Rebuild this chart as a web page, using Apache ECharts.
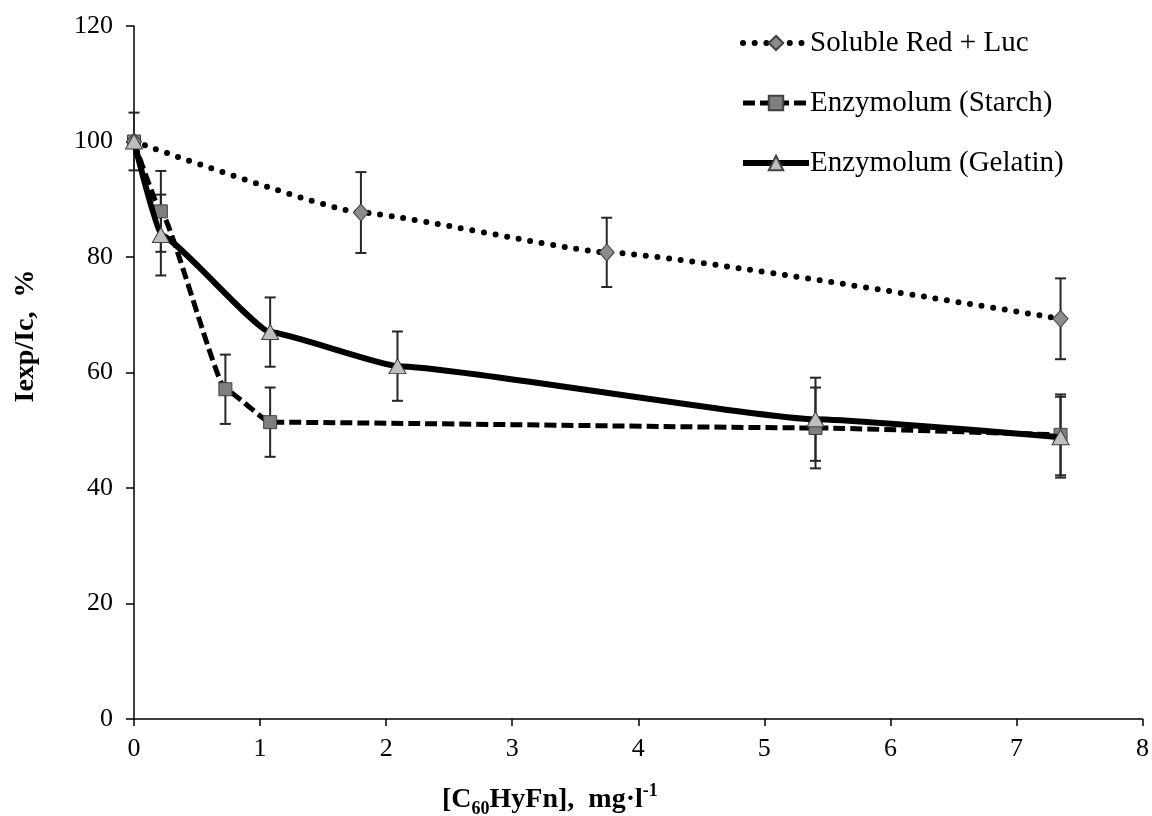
<!DOCTYPE html>
<html>
<head>
<meta charset="utf-8">
<script src="https://cdn.jsdelivr.net/npm/echarts@6/dist/echarts.min.js"></script>
<style>
html,body{margin:0;padding:0;background:#fff;}
#chart{width:1152px;height:816px;}
</style>
</head>
<body>
<div id="chart"></div>
<script>
// ---- data ----
var seriesNames = ['Soluble Red + Luc', 'Enzymolum (Starch)', 'Enzymolum (Gelatin)'];
var xTicks = [0, 1, 2, 3, 4, 5, 6, 7, 8];
var yTicks = [0, 20, 40, 60, 80, 100, 120];

var solubleX = [0, 1.80, 3.75, 7.35];
var solubleY = [100, 87.7, 80.8, 69.3];
var solubleErr = [0, 7.0, 6.0, 7.0];

var starchX = [0, 0.213, 0.725, 1.08, 5.406, 7.35];
var starchY = [100, 87.9, 57.1, 51.4, 50.4, 49.2];
var starchErr = [0, 7.0, 6.0, 6.0, 7.0, 7.0];

var gelatinX = [0, 0.213, 1.08, 2.09, 5.406, 7.35];
var gelatinY = [100, 83.8, 67.0, 61.1, 51.9, 48.8];
var gelatinErr = [5.0, 7.0, 6.0, 6.0, 7.2, 7.0];

function pts(xs, ys){ return xs.map(function(x,i){ return [x, ys[i]]; }); }
function errs(xs, ys, es){
  var out = [];
  xs.forEach(function(x,i){ if (es[i] > 0) out.push([x, ys[i]-es[i], ys[i]+es[i]]); });
  return out;
}

var FONT = '"Liberation Serif","Times New Roman",serif';

var dotStyle = {color: '#000', width: 6, type: [0, 11.7], cap: 'round'};
var dashStyle = {color: '#000', width: 5, type: [12, 5]};
var solidStyle = {color: '#000', width: 6, type: 'solid'};

function errSeries(data){
  return {
    type: 'custom',
    z: 2,
    silent: true,
    data: data,
    renderItem: function(params, api){
      var x = api.value(0);
      var lo = api.coord([x, api.value(1)]);
      var hi = api.coord([x, api.value(2)]);
      var hw = 5.5;
      var st = {stroke: '#262626', lineWidth: 2};
      return {
        type: 'group',
        children: [
          {type:'line', shape:{x1:lo[0], y1:lo[1], x2:hi[0], y2:hi[1]}, style: st},
          {type:'line', shape:{x1:lo[0]-hw, y1:lo[1], x2:lo[0]+hw, y2:lo[1]}, style: st},
          {type:'line', shape:{x1:hi[0]-hw, y1:hi[1], x2:hi[0]+hw, y2:hi[1]}, style: st}
        ]
      };
    }
  };
}

var chart = echarts.init(document.getElementById('chart'), null, {renderer: 'canvas'});
var option = {
  animation: false,
  backgroundColor: '#ffffff',
  textStyle: {fontFamily: FONT},
  grid: {left: 134, right: 9, top: 26, bottom: 97, containLabel: false},
  legend: {
    orient: 'vertical',
    left: 735,
    top: 21,
    itemWidth: 66,
    itemHeight: 18,
    itemGap: 26,
    data: [
      {name: seriesNames[0], lineStyle: dotStyle},
      {name: seriesNames[1], lineStyle: dashStyle},
      {name: seriesNames[2], lineStyle: solidStyle}
    ],
    textStyle: {fontFamily: FONT, fontSize: 29, color: '#000', lineHeight: 34, padding: [0,0,0,-4]}
  },
  xAxis: {
    type: 'value',
    min: 0, max: 8, interval: 1,
    splitLine: {show: false},
    axisLine: {onZero: false, lineStyle: {color: '#000', width: 1.5}},
    axisTick: {show: true, inside: false, length: 7, lineStyle: {color: '#000', width: 1.5}},
    axisLabel: {fontFamily: FONT, fontSize: 26, color: '#000', margin: 17,
      formatter: function(v){ return xTicks.indexOf(v) >= 0 ? String(v) : ''; }}
  },
  yAxis: {
    type: 'value',
    min: 0, max: 120, interval: 20,
    splitLine: {show: false},
    axisLine: {onZero: false, lineStyle: {color: '#000', width: 1.5}},
    axisTick: {show: true, inside: false, length: 8, lineStyle: {color: '#000', width: 1.5}},
    axisLabel: {fontFamily: FONT, fontSize: 26, color: '#000', margin: 21,
      formatter: function(v){ return yTicks.indexOf(v) >= 0 ? String(v) : ''; }}
  },
  graphic: [
    {
      type: 'text',
      left: 442, top: 782,
      style: {
        text: '{b|[C}{s|60}{b|HyFn],  mg·l}{p|-1}',
        rich: {
          b: {fontFamily: FONT, fontWeight: 'bold', fontSize: 28, fill: '#000', verticalAlign: 'bottom', lineHeight: 32},
          s: {fontFamily: FONT, fontWeight: 'bold', fontSize: 18, fill: '#000', verticalAlign: 'bottom', lineHeight: 24, padding: [0,0,-4,0]},
          p: {fontFamily: FONT, fontWeight: 'bold', fontSize: 18, fill: '#000', verticalAlign: 'top', lineHeight: 32}
        }
      }
    },
    {
      type: 'text',
      x: 26, y: 336,
      rotation: Math.PI / 2,
      style: {
        text: 'Iexp/Ic,  %',
        fontFamily: FONT, fontWeight: 'bold', fontSize: 28, fill: '#000',
        align: 'center', verticalAlign: 'middle'
      }
    }
  ],
  series: [
    errSeries(errs(solubleX, solubleY, solubleErr)),
    errSeries(errs(starchX, starchY, starchErr)),
    errSeries(errs(gelatinX, gelatinY, gelatinErr)),
    {
      name: seriesNames[1],
      type: 'line',
      z: 3,
      smooth: 0.12,
      smoothMonotone: 'x',
      data: pts(starchX, starchY),
      symbol: 'rect', symbolSize: 13,
      itemStyle: {color: '#7f7f7f', borderColor: '#404040', borderWidth: 1},
      lineStyle: dashStyle
    },
    {
      name: seriesNames[2],
      type: 'line',
      z: 4,
      smooth: 0.12,
      smoothMonotone: 'x',
      data: pts(gelatinX, gelatinY),
      symbol: 'triangle', symbolSize: [17, 15],
      itemStyle: {color: '#bfbfbf', borderColor: '#404040', borderWidth: 1},
      lineStyle: solidStyle
    },
    {
      name: seriesNames[0],
      type: 'line',
      z: 3,
      smooth: 0.12,
      smoothMonotone: 'x',
      data: pts(solubleX, solubleY),
      symbol: 'diamond', symbolSize: [15, 17],
      itemStyle: {color: '#8c8c8c', borderColor: '#404040', borderWidth: 1},
      lineStyle: dotStyle
    }
  ]
};
chart.setOption(option);
</script>
</body>
</html>
